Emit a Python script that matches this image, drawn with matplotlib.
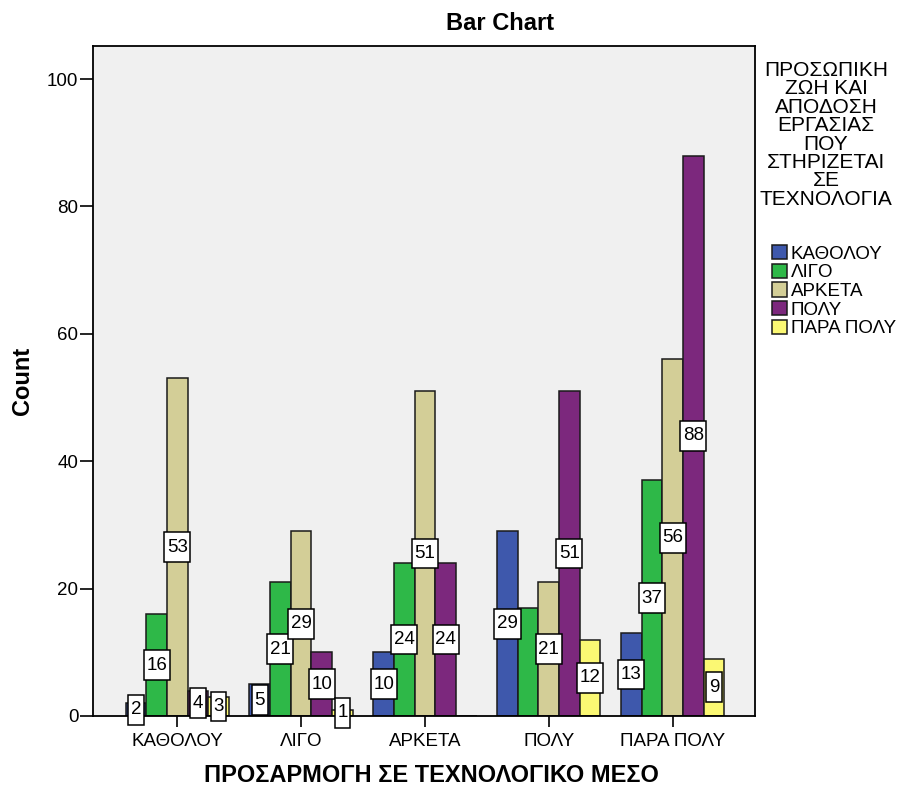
import matplotlib
matplotlib.use('Agg')
import matplotlib.pyplot as plt
from matplotlib.patches import Patch
from matplotlib.path import Path
import numpy as np

# --------------------------------------------------------------------
# Fonts
# --------------------------------------------------------------------
plt.rcParams['font.family'] = ['Liberation Sans', 'DejaVu Sans']

# --------------------------------------------------------------------
# Data: counts per legend series for each x category
# --------------------------------------------------------------------
groups = ['ΚΑΘΟΛΟΥ', 'ΛΙΓΟ', 'ΑΡΚΕΤΑ', 'ΠΟΛΥ', 'ΠΑΡΑ ΠΟΛΥ']
series = ['ΚΑΘΟΛΟΥ', 'ΛΙΓΟ', 'ΑΡΚΕΤΑ', 'ΠΟΛΥ', 'ΠΑΡΑ ΠΟΛΥ']

counts_katholou = [2, 5, 10, 29, 13]
counts_ligo = [16, 21, 24, 17, 37]
counts_arketa = [53, 29, 51, 21, 56]
counts_poly = [4, 10, 24, 51, 88]
counts_para_poly = [3, 1, 0, 12, 9]

# (series index, group index) of bars drawn without a value box
unlabelled = [(1, 3)]

yticks = [0, 20, 40, 60, 80, 100]

legend_title = 'ΠΡΟΣΩΠΙΚΗ\nΖΩΗ ΚΑΙ\nΑΠΟΔΟΣΗ\nΕΡΓΑΣΙΑΣ\nΠΟΥ\nΣΤΗΡΙΖΕΤΑΙ\nΣΕ\nΤΕΧΝΟΛΟΓΙΑ'
xlabel = 'ΠΡΟΣΑΡΜΟΓΗ ΣΕ ΤΕΧΝΟΛΟΓΙΚΟ ΜΕΣΟ'

colors = ['#3E58AC', '#2EB848', '#D3CE97', '#7C287D', '#FBF873']

all_counts = [counts_katholou, counts_ligo, counts_arketa, counts_poly, counts_para_poly]


# --------------------------------------------------------------------
# Value box: a plain rectangle with more room above/below than sideways
# --------------------------------------------------------------------
def tall_box(x0, y0, width, height, mutation_size):
    padx = 0.14*mutation_size
    pady = 0.34*mutation_size
    x0, y0 = x0 - padx, y0 - pady
    x1, y1 = x0 + width + 2*padx, y0 + height + 2*pady
    return Path([(x0, y0), (x1, y0), (x1, y1), (x0, y1), (x0, y0)], closed=True)


# --------------------------------------------------------------------
# Figure
# --------------------------------------------------------------------
W, H = 901, 785
fig = plt.figure(figsize=(W/100, H/100), dpi=100)
ax = fig.add_axes([93/W, 1 - 716/H, (755-93)/W, (716-46)/H])
ax.set_facecolor('#F0F0F0')

x = np.arange(len(groups))
width = 1/6.
fs = 13.5

for i, (vals, c) in enumerate(zip(all_counts, colors)):
    xs = x + (i - 2)*width
    ax.bar(xs, vals, width=width, color=c, edgecolor='#1a1a1a', linewidth=1.1, zorder=2)
    for j, v in enumerate(vals):
        if v <= 0 or (i, j) in unlabelled:
            continue
        ax.text(xs[j], v/2., str(v), ha='center', va='center', fontsize=fs, zorder=5,
                bbox=dict(boxstyle=tall_box, fc='white', ec='black', lw=1.1))

ax.set_xlim(-0.68, 4.665)
ax.set_ylim(0, 105.2)
ax.set_xticks(x)
ax.set_xticklabels(groups, fontsize=fs)
ax.set_yticks(yticks)
ax.set_yticklabels([str(t) for t in yticks], fontsize=fs)
ax.tick_params(axis='y', length=9.5, width=1.2, pad=1)
ax.tick_params(axis='x', length=8, width=1.2, pad=4)
for s in ax.spines.values():
    s.set_linewidth(1.3)
    s.set_color('black')

# --------------------------------------------------------------------
# Titles and labels
# --------------------------------------------------------------------
fig.text(500/W, 1 - 24/H, 'Bar Chart', ha='center', va='center', fontsize=17, fontweight='bold')
fig.text(22/W, 1 - 381/H, 'Count', ha='center', va='center', rotation=90, fontsize=17, fontweight='bold')
fig.text(431/W, 1 - 775/H, xlabel, ha='center', va='center', fontsize=17, fontweight='bold')

# --------------------------------------------------------------------
# Legend
# --------------------------------------------------------------------
fig.text(826/W, 1 - 135/H, legend_title, ha='center', va='center', fontsize=15, linespacing=0.96)
handles = [Patch(facecolor=c, edgecolor='#1a1a1a', linewidth=1.1) for c in colors]
fig.legend(handles, series, loc='upper left', bbox_to_anchor=(772/W, 1 - 245/H),
           frameon=False, fontsize=fs, handlelength=0.8, handleheight=0.8,
           handletextpad=0.2, labelspacing=0.05, borderpad=0, borderaxespad=0)

fig.savefig('out.png', dpi=100)
